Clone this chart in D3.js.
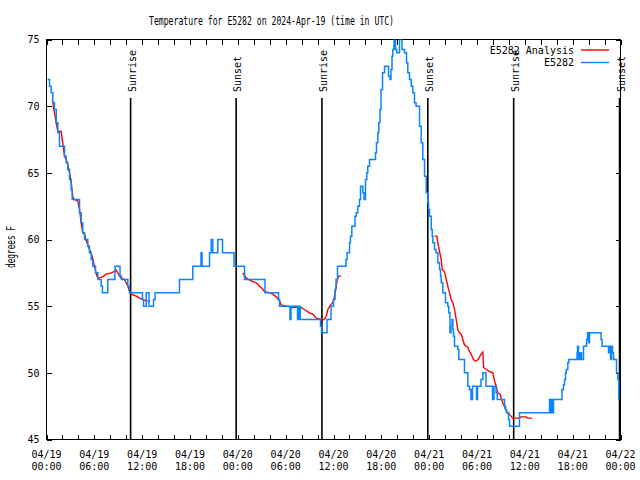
<!DOCTYPE html>
<html><head><meta charset="utf-8">
<script src="https://cdn.jsdelivr.net/npm/d3@7"></script>
<style>
html,body{margin:0;padding:0;background:#fff;}
svg{display:block;}
text{font-family:"DejaVu Sans Mono",monospace;fill:#000;}
</style></head>
<body>
<svg id="chart" width="640" height="480"></svg>
<script>
// ---- data (hours since 2024-04-19 00:00 UTC) ----
const chartTitle = "Temperature for E5282 on 2024-Apr-19 (time in UTC)";
const yLabel = "degrees F";
const yTicks = [45, 50, 55, 60, 65, 70, 75];
const seriesNames = ["E5282 Analysis", "E5282"];

const obsHours = [0.13,0.38,0.59,0.79,1.00,1.22,1.42,1.63,2.26,2.47,2.67,2.89,3.10,3.22,4.14,4.35,4.55,4.77,5.18,5.39,5.61,5.81,6.15,6.44,6.86,7.02,7.69,8.59,9.22,9.41,10.20,10.41,12.04,12.17,12.51,12.86,13.42,13.61,16.68,18.35,19.38,19.51,20.45,20.66,20.86,21.49,22.08,23.52,24.84,27.41,29.10,29.23,30.54,30.67,31.49,31.67,31.82,34.37,34.50,35.19,35.69,36.00,36.19,36.32,36.50,37.57,37.70,38.01,38.13,38.30,38.70,38.85,39.05,39.26,39.39,39.68,39.83,40.01,40.18,40.30,40.52,41.27,41.39,41.56,41.68,41.83,41.96,42.15,42.40,42.90,43.09,43.21,43.34,43.44,43.59,43.78,43.94,44.28,44.59,44.91,45.16,45.32,45.53,45.75,45.95,46.16,46.35,46.79,47.00,47.20,47.42,47.63,47.83,47.92,48.04,48.26,48.38,48.46,48.67,48.86,49.09,49.30,49.42,49.51,49.71,50.05,50.34,50.46,50.61,50.74,50.87,50.97,51.05,51.18,51.59,51.72,52.43,52.85,53.06,53.25,53.44,53.94,54.07,54.50,54.73,55.13,55.95,56.13,56.39,56.54,57.45,57.58,57.70,57.95,58.08,59.33,63.10,63.22,63.35,63.47,63.60,64.66,64.85,64.98,65.10,65.19,65.39,65.52,66.55,66.61,66.73,66.92,67.11,67.36,67.74,67.86,67.99,68.11,69.56,69.68,70.50,70.62,70.75,70.87,71.00,71.13,71.50,71.66,71.79,71.88];
const obsTemps = [72,71.5,71,70.25,69.75,68.75,68,67,66.25,65.75,65.25,64.5,63.75,63,62,61.25,60.5,60,59.5,59,58.5,58,57.5,57,56.5,56,57,58,57.25,57,56.5,56,55.5,55,56,55,55.5,56,57,58,59,58,59,60,59,60,59,58,57,56,55.5,55,54,55,54,55,54,53.5,53,54,55,55.5,56.25,57,58,58.5,59,59.75,60.25,61,61.75,62,62.5,63,64,63.5,63,64.5,65,65.5,66,66.5,67.25,68,68.75,69.75,71.25,72.5,73,72.25,72,72.75,73.75,74.25,75,74.25,74,75,74.25,74,73.25,72.5,72,71.5,71,70.25,70,68.5,67.25,66,64.75,63.5,62.75,62.25,61.75,60.75,60.25,59.75,59.25,59,58.25,57.75,57.25,56.75,56,55.25,55,54.5,53,53.5,54,53.25,52.75,52,51.75,51,50,49,48.75,48,49,48,49,49.5,50,49,48,49,48.5,48,47.5,47.25,47,46.5,46,47,48,47,48,47,48,48.75,49.1,49.5,50,50.25,50.75,51,51.5,52,51,51.5,51,52,52.5,53,52.25,53,52.5,52,51.5,52,51,52,51.5,51,50,49.5,48,48];

const anaHours1 = [0.72,1.00,1.22,1.42,1.84,2.04,2.26,2.47,2.67,2.89,3.10,3.30,3.45,3.93,4.14,4.35,4.55,4.77,4.98,5.39,5.61,5.81,6.02,6.31,6.56,7.02,7.49,8.12,8.53,8.74,8.94,9.16,9.37,9.78,10.20,10.41,10.62,11.25,11.67,12.08,12.51,12.92];
const anaTemps1 = [70.5,69.5,68.75,68.1,68.1,67.25,66.25,66,65.6,65,64.25,63.25,63,62.9,62.25,61.25,60.5,60.4,59.9,59.25,59,58.5,58,57.25,57.1,57.2,57.4,57.5,57.6,57.7,57.5,57.25,57.1,57,56.5,56.1,55.9,55.75,55.6,55.5,55.4,55.4];
const anaHours2 = [24.62,25.05,25.68,26.30,26.72,26.93,27.34,27.97,28.39,28.81,29.23,29.44,30.07,30.90,31.74,32.36,32.99,33.40,33.83,34.25,34.66,35.00,35.16,35.29,35.62,35.91,36.13,36.34,36.47,36.63,36.97];
const anaTemps2 = [57.5,57.1,56.9,56.75,56.5,56.4,56.1,56,55.9,55.7,55.4,55.1,55,54.9,54.95,54.75,54.5,54.4,54.1,54.05,53.95,54.1,54.4,54.75,55.1,55.25,55.75,56.5,57,57.25,57.25];
const anaHours3 = [48.67,48.96,49.09,49.30,49.51,49.64,49.92,50.14,50.34,50.55,50.76,50.97,51.18,51.39,51.59,51.81,52.02,52.22,52.43,52.64,52.85,53.06,53.27,53.48,53.69,53.98,54.23,54.53,54.73,54.82,55.16,55.57,55.98,56.20,56.41,56.61,56.91,57.03,57.23,57.45,57.58,57.83,58.08,58.45,59.33,59.46,60.17,60.34,60.93];
const anaTemps3 = [60.25,60.25,59.75,59.1,58.5,57.75,57.6,57,56.5,56,55.5,55.25,54.75,54,53.25,53,52.9,52.5,52.1,52,51.9,51.6,51.4,51.1,50.9,50.9,51.1,51.4,51.55,50.4,50.25,50.1,50,49.4,49,48.5,48.4,48.1,47.75,47.5,47.25,47,46.9,46.6,46.6,46.7,46.7,46.6,46.6];

const sunHours = [10.55, 23.79, 34.55, 47.83, 58.60, 71.88];
const sunLabels = ["Sunrise", "Sunset", "Sunrise", "Sunset", "Sunrise", "Sunset"];

// ---- drawing ----
const startMs = Date.UTC(2024, 3, 19);
const toDate = h => new Date(startMs + h * 3600e3);
const svg = d3.select("#chart");
const L = 46.5, R = 620.5, T = 39.5, B = 439.5;

const x = d3.scaleUtc().domain([toDate(0), toDate(72)]).range([L, R]);
const y = d3.scaleLinear().domain([45, 75]).range([B, T]);

svg.append("defs").append("clipPath").attr("id", "clip")
  .append("rect").attr("x", L).attr("y", T).attr("width", R - L).attr("height", B - T);

// title
svg.append("text").attr("x", 149).attr("y", 24.5)
  .attr("font-size", 11.5).attr("textLength", 245).attr("lengthAdjust", "spacingAndGlyphs")
  .text(chartTitle);

// y label
svg.append("text").attr("transform", "translate(15,247) rotate(-90)")
  .attr("text-anchor", "middle").attr("font-size", 11.5)
  .attr("textLength", 42).attr("lengthAdjust", "spacingAndGlyphs")
  .text(yLabel);

// axes
const tick2h = d3.utcHour.every(2);
const styleAxis = g => {
  g.select(".domain").remove();
  g.selectAll("line").attr("stroke", "#000").attr("shape-rendering", "crispEdges");
  g.selectAll("text").attr("font-family", "DejaVu Sans Mono").attr("font-size", 10).attr("fill", "#000");
};
svg.append("g").attr("transform", `translate(0,${B})`)
  .call(d3.axisBottom(x).ticks(tick2h).tickSizeInner(-5).tickSizeOuter(0).tickFormat(""))
  .call(styleAxis);
svg.append("g").attr("transform", `translate(0,${T})`)
  .call(d3.axisTop(x).ticks(tick2h).tickSizeInner(-5).tickSizeOuter(0).tickFormat(""))
  .call(styleAxis);
svg.append("g").attr("transform", `translate(${L},0)`)
  .call(d3.axisLeft(y).tickValues(yTicks).tickSizeInner(-5).tickSizeOuter(0).tickPadding(7).tickFormat(d3.format("d")))
  .call(styleAxis);
svg.append("g").attr("transform", `translate(${R},0)`)
  .call(d3.axisRight(y).tickValues(yTicks).tickSizeInner(-5).tickSizeOuter(0).tickFormat(""))
  .call(styleAxis);

// x labels (two lines)
const fmtD = d3.utcFormat("%m/%d"), fmtT = d3.utcFormat("%H:%M");
const xl = svg.append("g").attr("font-size", 10).attr("text-anchor", "middle");
x.ticks(d3.utcHour.every(6)).forEach(d => {
  xl.append("text").attr("x", x(d)).attr("y", 458).text(fmtD(d));
  xl.append("text").attr("x", x(d)).attr("y", 470).text(fmtT(d));
});

// frame
svg.append("rect").attr("x", L).attr("y", T).attr("width", R - L).attr("height", B - T)
  .attr("fill", "none").attr("stroke", "#000").attr("stroke-width", 1).attr("shape-rendering", "crispEdges");

// sun lines
sunHours.forEach((h, i) => {
  const sx = x(toDate(h));
  svg.append("line").attr("x1", sx).attr("x2", sx).attr("y1", 98).attr("y2", B)
    .attr("stroke", "#000").attr("stroke-width", 1.6);
  svg.append("text").attr("transform", `translate(${sx + 5},92) rotate(-90)`)
    .attr("font-size", 10).attr("text-anchor", "start").text(sunLabels[i]);
});

const plot = svg.append("g").attr("clip-path", "url(#clip)");

// analysis (red)
const redLine = d3.line().x(d => x(toDate(d[0]))).y(d => y(d[1]));
[[anaHours1, anaTemps1], [anaHours2, anaTemps2], [anaHours3, anaTemps3]].forEach(([hs, ts]) => {
  plot.append("path").datum(hs.map((h, i) => [h, ts[i]]))
    .attr("d", redLine).attr("fill", "none").attr("stroke", "#ff0000").attr("stroke-width", 1.4);
});

// observations (blue)
const blueLine = d3.line().curve(d3.curveStepAfter).x(d => x(toDate(d[0]))).y(d => y(d[1]));
plot.append("path").datum(obsHours.map((h, i) => [h, obsTemps[i]]))
  .attr("d", blueLine).attr("fill", "none").attr("stroke", "#0a84ff").attr("stroke-width", 1.5);

// legend
const lg = svg.append("g").attr("font-size", 10);
const legColors = ["#ff0000", "#0a84ff"];
seriesNames.forEach((n, i) => {
  const ly = 50 + i * 12.5;
  lg.append("text").attr("x", 574).attr("y", ly + 3.5).attr("text-anchor", "end").text(n);
  lg.append("line").attr("x1", 581).attr("x2", 609).attr("y1", ly).attr("y2", ly)
    .attr("stroke", legColors[i]).attr("stroke-width", 1.4);
});
</script>
</body></html>
